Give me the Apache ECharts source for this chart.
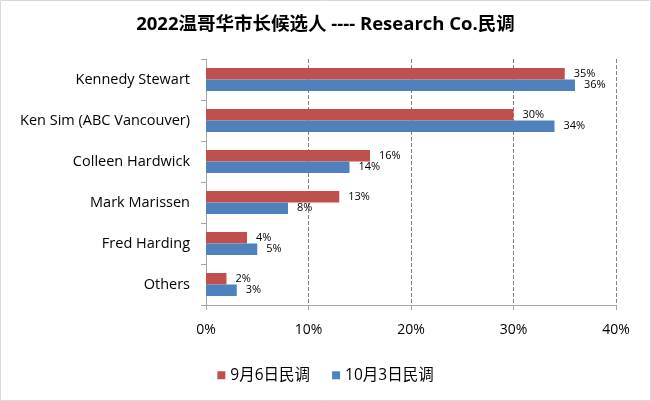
<!DOCTYPE html>
<html>
<head>
<meta charset="utf-8">
<script src="https://cdn.jsdelivr.net/npm/echarts@6/dist/echarts.min.js"></script>
<style>
html, body { margin: 0; padding: 0; background: #fff; }
#main { width: 651px; height: 401px; }
</style>
</head>
<body>
<div id="main"></div>
<script>
var categories = ['Kennedy Stewart', 'Ken Sim (ABC Vancouver)', 'Colleen Hardwick', 'Mark Marissen', 'Fred Harding', 'Others'];
var sep6 = [35, 30, 16, 13, 4, 2];
var oct3 = [36, 34, 14, 8, 5, 3];
var seriesNames = ['9月6日民调', '10月3日民调'];

var font = '"Open Sans", "Noto Sans CJK SC", sans-serif';
var myChart = echarts.init(document.getElementById('main'));
var option = {
    textStyle: { fontFamily: font },
    title: {
        text: '2022温哥华市长候选人 ---- Research Co.民调',
        left: 'center',
        top: 10,
        textStyle: { fontSize: 18.5, fontWeight: 'bold', color: '#000', fontFamily: font }
    },
    graphic: [{
        type: 'rect',
        shape: { x: 0.5, y: 0.5, width: 650, height: 400 },
        style: { fill: 'none', stroke: '#d9d9d9', lineWidth: 1 },
        silent: true
    }],
    grid: { left: 206, right: 35, top: 59, bottom: 96 },
    legend: {
        bottom: 13,
        left: 'center',
        itemWidth: 8,
        itemHeight: 8,
        itemGap: 22,
        icon: 'rect',
        textStyle: { fontSize: 15.5, color: '#000', fontFamily: font },
        data: seriesNames
    },
    xAxis: {
        type: 'value',
        min: 0,
        max: 40,
        interval: 10,
        axisLine: { show: true, lineStyle: { color: '#a6a6a6' } },
        axisTick: { show: true, length: 5, lineStyle: { color: '#a6a6a6' } },
        splitLine: { lineStyle: { type: 'dashed', color: '#808080' } },
        axisLabel: { formatter: '{value}%', fontSize: 14, color: '#000', margin: 18 }
    },
    yAxis: {
        type: 'category',
        inverse: true,
        data: categories,
        axisLine: { show: true, lineStyle: { color: '#a6a6a6' } },
        axisTick: { show: true, length: 5, lineStyle: { color: '#a6a6a6' } },
        axisLabel: { fontSize: 14.5, color: '#000', margin: 16 }
    },
    series: [
        {
            type: 'bar',
            name: seriesNames[0],
            data: sep6,
            barGap: '0%',
            barCategoryGap: '44%',
            itemStyle: { color: '#c0504d' },
            label: { show: true, position: 'right', formatter: '{c}%', fontSize: 11, color: '#000', distance: 9 }
        },
        {
            type: 'bar',
            name: seriesNames[1],
            data: oct3,
            barGap: '0%',
            barCategoryGap: '44%',
            itemStyle: { color: '#4f81bd' },
            label: { show: true, position: 'right', formatter: '{c}%', fontSize: 11, color: '#000', distance: 9 }
        }
    ]
};
myChart.setOption(option);
</script>
</body>
</html>
